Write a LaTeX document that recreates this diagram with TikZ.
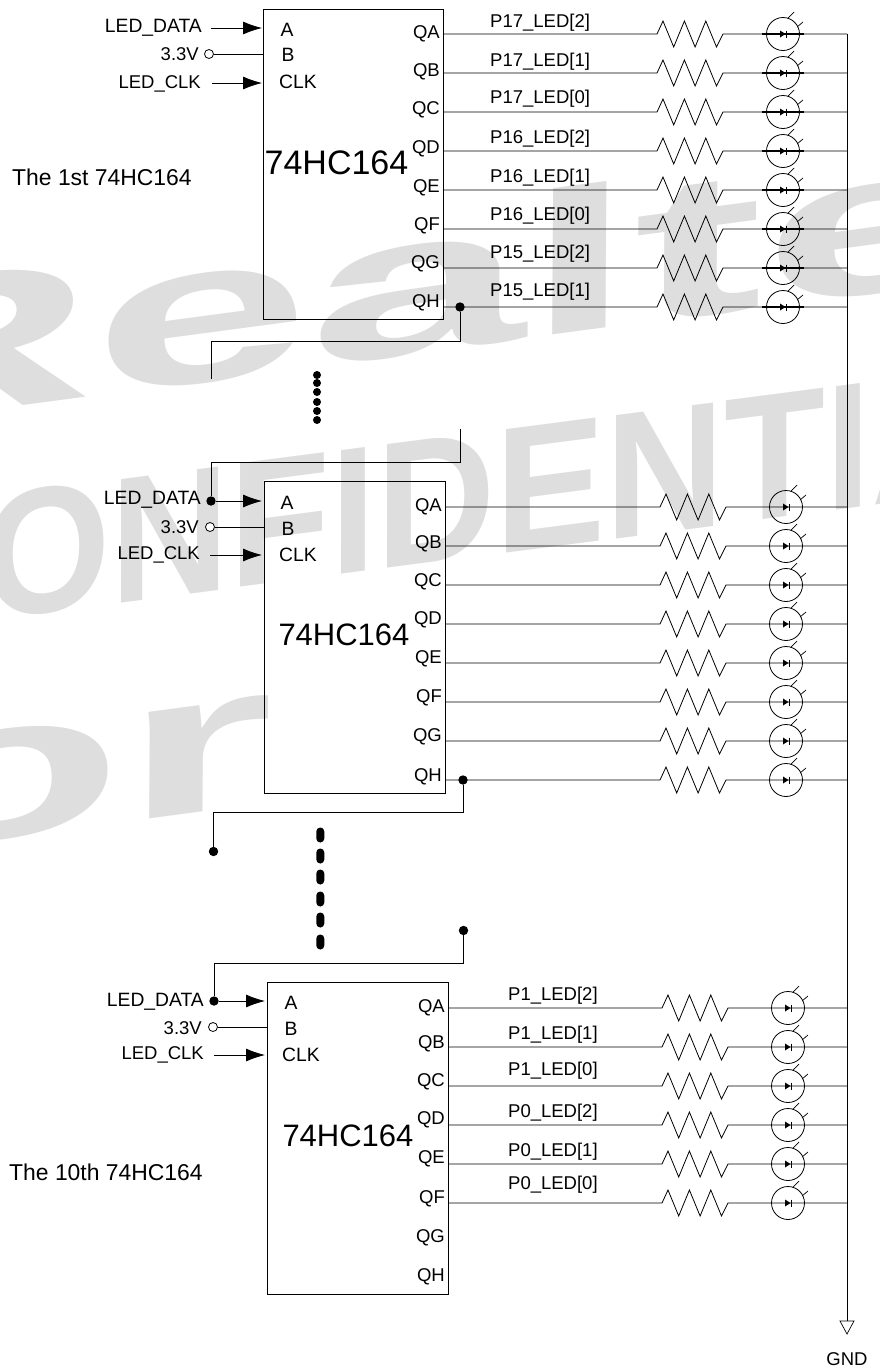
\documentclass[tikz,border=0pt]{standalone}
\usepackage{fontspec}
\setmainfont{Liberation Sans}
\usetikzlibrary{arrows.meta}
\definecolor{wm}{HTML}{DEDEDE}
\tikzset{
  wire/.style={draw=black,line width=0.8pt},
  lbl/.style={font=\fontsize{18.5}{20}\selectfont,inner sep=0pt,yshift=-2pt},
  sig/.style={font=\fontsize{19.3}{20}\selectfont,inner sep=0pt,yshift=-2pt},
  bigl/.style={font=\fontsize{31}{33}\selectfont,inner sep=0pt},
  note/.style={font=\fontsize{22.9}{25}\selectfont,inner sep=0pt,anchor=west},
  chipbox/.style={draw=black,line width=0.8pt,inner sep=0pt},
  ledc/.style={circle,draw=black,line width=0.8pt,minimum size=33pt,inner sep=0pt},
  junction/.style={circle,fill=black,inner sep=0pt,minimum size=9.4pt},
  openc/.style={circle,draw=black,fill=white,line width=0.8pt,inner sep=0pt,minimum size=9pt},
  arr/.style={wire,-{Latex[length=19pt,width=13pt]}},
  wmark/.style={transform shape,inner sep=0pt,anchor=base west,text=wm},
}
\newcommand{\ledrow}[4]{%
  \coordinate (r#1a) at ({657+#3},#2);
  \coordinate (r#1b) at ({723+#3},#2);
  \node[ledc] (l#1) at ({783+#3},#2) {};
  \coordinate (b#1) at (847,#2);
  \coordinate (s#1) at (#4,#2);
  \draw[wire] (s#1) -- (r#1a) -- ++(6,-13) -- ++(10.7,26) -- ++(10.7,-26) -- ++(10.7,26) -- ++(10.7,-26) -- ++(10.7,26) -- (r#1b) -- (b#1);
  \fill[black] ({783+#3-3},#2-3.5) -- ({783+#3-3},#2+3.5) -- ({783+#3+2.5},#2) -- cycle;
  \draw[wire] ({783+#3+3},#2-3.5) -- ({783+#3+3},#2+3.5);
  \draw[wire,line width=0.7pt] ({783+#3+5},#2-16) -- ({783+#3+11},#2-22);
  \draw[wire,line width=0.7pt] ({783+#3+14},#2-7) -- ({783+#3+20},#2-12);
}
\begin{document}
\begin{tikzpicture}[x=1pt,y=-1pt]
\useasboundingbox (0,0) rectangle (880,1366);
\fill[white] (0,0) rectangle (880,1366);
\begin{scope}
\clip (0,0) rectangle (880,1366);
\node[wmark,rotate=7.6,xslant=0.14,xscale=1.96,font=\fontsize{200}{200}\selectfont\bfseries] (wm1) at (-187,434) {Realte};
\node[wmark,rotate=7.4,xslant=0.13,xscale=0.935,font=\fontsize{178}{178}\selectfont\bfseries] (wm2) at (-18,621) {ONFIDENTIA};
\node[wmark,rotate=7.6,xslant=0.14,xscale=1.96,font=\fontsize{200}{200}\selectfont\bfseries] (wm3) at (-115,854) {or};
\end{scope}

% chip 1
\node[chipbox,minimum width=180pt,minimum height=310pt] (c1) at (353,164) {};
\node[bigl,font=\fontsize{34}{36}\selectfont] (c1t) at (336.5,163) {74HC164};
\node[sig] (c1A) at (287,28) {A};
\node[sig] (c1B) at (288,53) {B};
\node[sig] (c1C) at (298,80) {CLK};
\foreach \t/\y in {QA/32,QB/70,QC/108,QD/147,QE/186,QF/224,QG/262,QH/301}
  \node[lbl,anchor=east] (c1\t) at (440,\y) {\t};
\node[sig,anchor=east] (d1) at (202,26) {LED\_DATA};
\node[lbl,anchor=east] (v1) at (199,52) {3.3V};
\node[lbl,anchor=east] (k1) at (201,82) {LED\_CLK};
\coordinate (d1s) at (211,28); \coordinate (d1e) at (262,28);
\draw[arr] (d1s) -- (d1e);
\node[openc] (v1c) at (209,54) {};
\coordinate (v1e) at (263,54);
\draw[wire] (v1c) -- (v1e);
\coordinate (k1s) at (212,83); \coordinate (k1e) at (262,83);
\draw[arr] (k1s) -- (k1e);
\ledrow{a1}{34}{0}{443}
\ledrow{a2}{73}{0}{443}
\ledrow{a3}{112}{0}{443}
\ledrow{a4}{151}{0}{443}
\ledrow{a5}{190}{0}{443}
\ledrow{a6}{229}{0}{443}
\ledrow{a7}{268}{0}{443}
\ledrow{a8}{307}{0}{443}
\foreach \n in {1,...,8}
  \draw[wire,line width=1.1pt] ([xshift=-4pt]la\n.west) -- ([xshift=4pt]la\n.east);
\foreach \t/\y/\n in {P17\_LED[2]/21/1,P17\_LED[1]/60/2,P17\_LED[0]/97/3,P16\_LED[2]/137/4,P16\_LED[1]/176/5,P16\_LED[0]/214/6,P15\_LED[2]/252/7,P15\_LED[1]/290/8}
  \node[lbl,anchor=west] (pa\n) at (490,\y) {\t};
\node[note] (n1) at (12,177) {The 1st 74HC164};
\node[junction] (j1) at (460,307) {};
\coordinate (j1e) at (211,379);
\draw[wire] (j1) -- (460,341) -- (211,341) -- (j1e);
\foreach \y/\n in {375/1,383/2,392/3,402/4,411/5,420/6}
  \node[circle,fill=black,inner sep=0pt,minimum size=8pt] (da\n) at (317,\y) {};

% chip 2
\coordinate (s2) at (460,429);
\node[junction] (j2in) at (211,501) {};
\draw[wire] (s2) -- (460,462) -- (211,462) -- (j2in);
\node[chipbox,minimum width=181pt,minimum height=312pt] (c2) at (354.5,637) {};
\node[bigl] (c2t) at (344,635) {74HC164};
\node[sig] (c2A) at (287,501) {A};
\node[sig] (c2B) at (288,527) {B};
\node[sig] (c2C) at (298,553) {CLK};
\foreach \t/\y in {QA/505,QB/542,QC/580,QD/618,QE/657,QF/696,QG/735,QH/775}
  \node[lbl,anchor=east] (c2\t) at (442,\y) {\t};
\node[sig,anchor=east] (d2) at (201,498) {LED\_DATA};
\node[lbl,anchor=east] (v2) at (199,525) {3.3V};
\node[lbl,anchor=east] (k2) at (200,553) {LED\_CLK};
\coordinate (d2e) at (262,501);
\draw[arr] (j2in) -- (d2e);
\node[openc] (v2c) at (210,527) {};
\coordinate (v2e) at (264,527);
\draw[wire] (v2c) -- (v2e);
\coordinate (k2s) at (210,555); \coordinate (k2e) at (262,555);
\draw[arr] (k2s) -- (k2e);
\ledrow{b1}{507}{3}{445}
\ledrow{b2}{546}{3}{445}
\ledrow{b3}{585}{3}{445}
\ledrow{b4}{624}{3}{445}
\ledrow{b5}{663}{3}{445}
\ledrow{b6}{702}{3}{445}
\ledrow{b7}{741}{3}{445}
\ledrow{b8}{780}{3}{445}
\node[junction] (j2) at (463,780) {};
\node[junction] (j2o) at (213.5,851.5) {};
\draw[wire] (j2) -- (463,812.5) -- (213.5,812.5) -- (j2o);
\foreach \y/\n in {835/1,856/2,877/3,899/4,920/5,942/6}
  \node[rectangle,rounded corners=3.9pt,fill=black,inner sep=0pt,minimum width=8pt,minimum height=15pt] (db\n) at (320.3,\y) {};

% chip 3
\node[junction] (j3) at (463.5,930.5) {};
\node[junction] (j3in) at (214,1001) {};
\draw[wire] (j3) -- (463.5,963) -- (214,963) -- (j3in);
\node[chipbox,minimum width=181pt,minimum height=312pt] (c3) at (357.5,1138) {};
\node[bigl] (c3t) at (348,1136) {74HC164};
\node[sig] (c3A) at (291,1001) {A};
\node[sig] (c3B) at (291,1027) {B};
\node[sig] (c3C) at (301,1053) {CLK};
\foreach \t/\y in {QA/1006,QB/1042,QC/1080,QD/1118,QE/1157,QF/1197,QG/1236,QH/1275}
  \node[lbl,anchor=east] (c3\t) at (445,\y) {\t};
\node[sig,anchor=east] (d3) at (204,1000) {LED\_DATA};
\node[lbl,anchor=east] (v3) at (202,1026) {3.3V};
\node[lbl,anchor=east] (k3) at (204,1053) {LED\_CLK};
\coordinate (d3e) at (265,1001);
\draw[arr] (j3in) -- (d3e);
\node[openc] (v3c) at (213,1027) {};
\coordinate (v3e) at (267,1027);
\draw[wire] (v3c) -- (v3e);
\coordinate (k3s) at (214,1055); \coordinate (k3e) at (265,1055);
\draw[arr] (k3s) -- (k3e);
\ledrow{c1}{1008}{5}{448}
\ledrow{c2}{1047}{5}{448}
\ledrow{c3}{1086}{5}{448}
\ledrow{c4}{1125}{5}{448}
\ledrow{c5}{1164}{5}{448}
\ledrow{c6}{1203}{5}{448}
\foreach \t/\y/\n in {P1\_LED[2]/994/1,P1\_LED[1]/1033/2,P1\_LED[0]/1069/3,P0\_LED[2]/1111/4,P0\_LED[1]/1150/5,P0\_LED[0]/1183/6}
  \node[lbl,anchor=west] (pc\n) at (508,\y) {\t};
\node[note] (n3) at (9,1172) {The 10th 74HC164};

% GND
\coordinate (gt) at (847,1321);
\draw[wire] (ba1) -- (gt);
\draw[wire,line width=0.7pt] (840,1321) -- (854,1321) -- (847,1334) -- cycle;
\node[lbl] (gnd) at (847,1357) {GND};
\end{tikzpicture}
\end{document}
